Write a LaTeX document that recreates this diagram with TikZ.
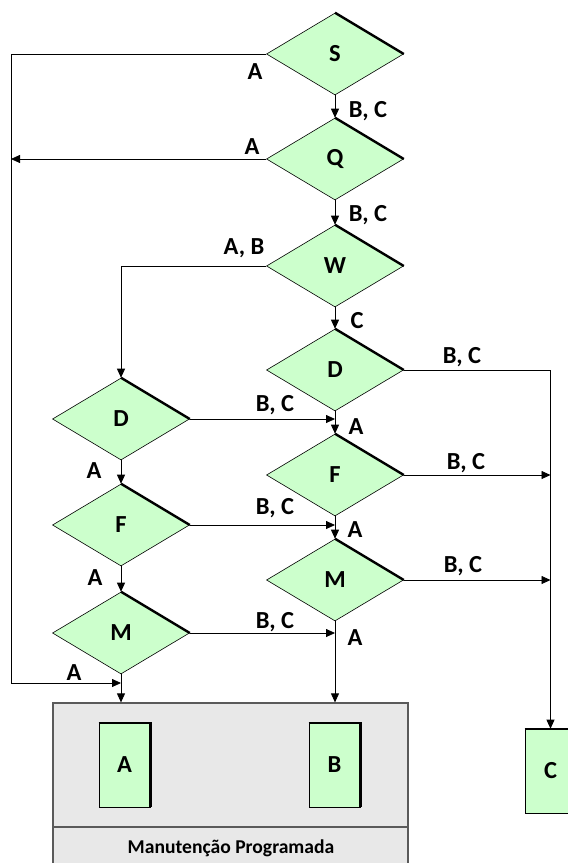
\documentclass[tikz,border=0pt]{standalone}
\usepackage{fontspec}
\setmainfont{Carlito}
\usetikzlibrary{arrows.meta,shapes.geometric}

\definecolor{decfill}{HTML}{CCFFCC}
\definecolor{panelfill}{HTML}{E8E8E8}
\definecolor{panelline}{HTML}{5A5A5A}

\begin{document}
\begin{tikzpicture}[
  x=1pt, y=-1pt,
  font=\bfseries\fontsize{24.5}{26}\selectfont,
  % every decision diamond has the same size so both columns line up
  decision/.style={diamond, draw, fill=decfill, line width=0.6pt,
    minimum width=137pt, minimum height=82pt, inner sep=0pt},
  stock/.style={draw, fill=decfill, line width=0.6pt,
    minimum width=51pt, minimum height=84pt, inner sep=0pt},
  panel/.style={draw=panelline, fill=panelfill, line width=1.2pt,
    minimum width=355pt, minimum height=163pt, inner sep=0pt},
  % heavy edge along the top-right side, a cheap drop shadow
  rim/.style={line width=2.4pt},
  flow/.style={-{Triangle[length=9pt,width=8pt]}, line width=0.8pt},
  tag/.style={inner sep=0pt}
]
\useasboundingbox (0,0) rectangle (568,863);

% maintenance panel with the two end states
\node[panel] (plant) at (230.5,784.5) {};
\coordinate (split) at (0,827);
\draw[panelline, line width=1.2pt] (plant.west |- split) -- (plant.east |- split);
\node[font=\bfseries\fontsize{19.6}{21}\selectfont] (plantname) at (231,848) {Manutenção Programada};

\node[stock] (stA) at (124.5,765) {A};
\node[stock] (stB) at (334.5,765) {B};
\node[stock] (stC) at (550.5,771) {C};
\foreach \n in {stA,stB,stC}
  \draw[rim] (\n.north west) -- (\n.north east) -- (\n.south east);

% right-hand column
\node[decision] (s) at (335,54) {S};
\node[decision] (q) at (335,159) {Q};
\node[decision] (w) at (335,266) {W};
\node[decision] (dright) at (335,370) {D};
\node[decision] (fright) at (335,475) {F};
\node[decision] (mright) at (335,580) {M};
% left-hand column
\node[decision] (dleft) at (121,419) {D};
\node[decision] (fleft) at (121,525) {F};
\node[decision] (mleft) at (121,633) {M};
\foreach \n in {s,q,w,dright,fright,mright,dleft,fleft,mleft}
  \draw[rim] (\n.north) -- (\n.east);

% bypass rail on the far left
\coordinate (rail) at (11,54);
\coordinate (join) at (121,683);

\draw[flow] (s.west) -- (rail) |- (join);
\draw[flow] (s) -- (q);
\draw[flow] (q.west) -- (q.west -| rail);
\draw[flow] (q) -- (w);
\draw[flow] (w.west) -| (dleft.north);
\draw[flow] (w) -- (dright);
\draw[flow] (dright.east) -| (stC.north);
\draw[flow] (dright) -- (fright);
\draw[flow] (fright.east) -- (fright.east -| stC.north);
\draw[flow] (fright) -- (mright);
\draw[flow] (mright.east) -- (mright.east -| stC.north);
\draw[flow] (mright.south) -- (mright.south |- plant.north);
\draw[flow] (dleft.east) -- (dleft.east -| fright.north);
\draw[flow] (dleft) -- (fleft);
\draw[flow] (fleft.east) -- (fleft.east -| mright.north);
\draw[flow] (fleft) -- (mleft);
\draw[flow] (mleft.east) -- (mleft.east -| mright.south);
\draw[flow] (mleft.south) -- (mleft.south |- plant.north);

% branch tags
\node[tag] (tsa) at (255,72) {A};
\node[tag] (tsbc) at (368,111) {B, C};
\node[tag] (tqa) at (252,147) {A};
\node[tag] (tqbc) at (368,215) {B, C};
\node[tag] (twab) at (244,248) {A, B};
\node[tag] (twc) at (357,321) {C};
\node[tag] (tdrbc) at (462,357) {B, C};
\node[tag] (tdra) at (356,427) {A};
\node[tag] (tfrbc) at (466,463) {B, C};
\node[tag] (tfra) at (355,530) {A};
\node[tag] (tmrbc) at (463,566) {B, C};
\node[tag] (tmra) at (355,638) {A};
\node[tag] (tdlbc) at (275,405) {B, C};
\node[tag] (tdla) at (94,471) {A};
\node[tag] (tflbc) at (275,508) {B, C};
\node[tag] (tfla) at (95,578) {A};
\node[tag] (tmlbc) at (275,622) {B, C};
\node[tag] (tmla) at (74,673) {A};
\end{tikzpicture}
\end{document}
